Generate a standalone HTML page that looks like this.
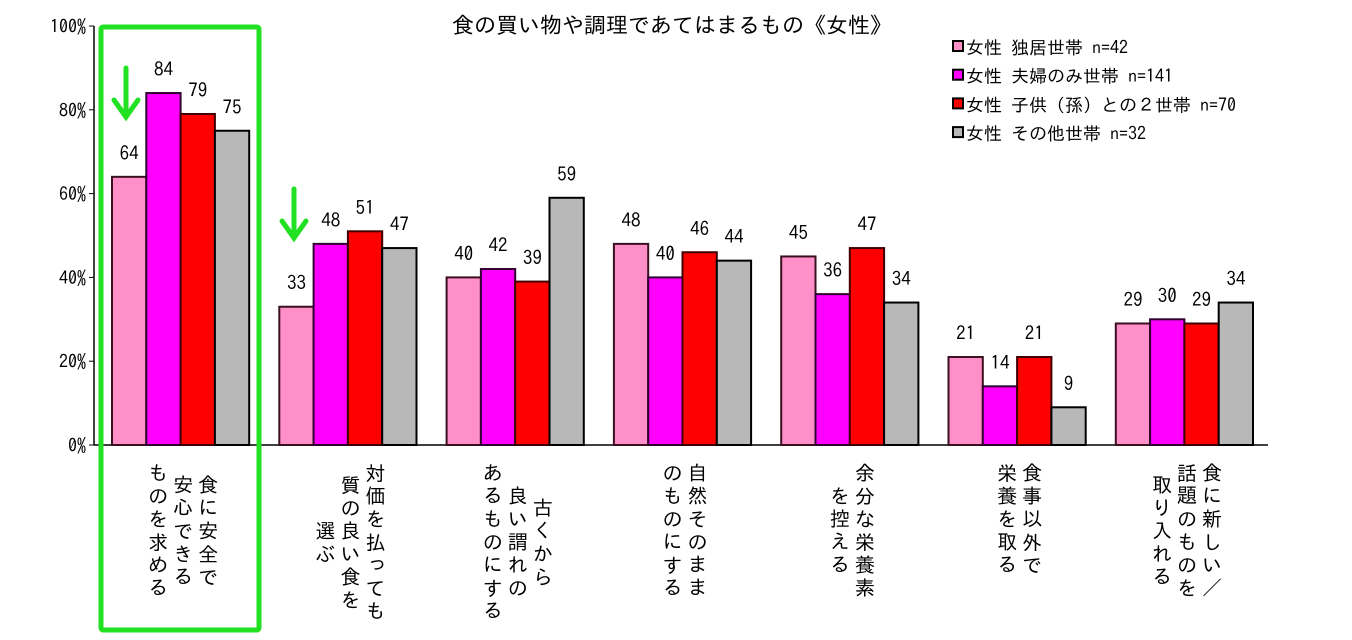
<!DOCTYPE html>
<html><head><meta charset="utf-8"><style>
body{margin:0;background:#fff;width:1352px;height:640px;overflow:hidden;position:relative;font-family:"IPAGothic","Liberation Sans","Noto Sans CJK JP",sans-serif;}
.vl{position:absolute;top:462px;writing-mode:vertical-rl;text-align:center;font-size:20px;line-height:25px;letter-spacing:3px;color:#000;}
</style></head><body>
<svg id="chart" width="1352" height="640" style="position:absolute;left:0;top:0" font-family="IPAGothic, Liberation Sans, Noto Sans CJK JP, sans-serif">
<text x="672" y="33" text-anchor="middle" font-size="22">食の買い物や調理であてはまるもの《女性》</text>
<g id="yaxis"></g><g id="bars"></g><g id="legend"></g>
<rect x="101" y="27" width="158" height="603" fill="none" stroke="#22e022" stroke-width="5" rx="2"/>
<g stroke="#22e022" stroke-width="5" fill="none" stroke-linecap="round"><line x1="126" y1="68" x2="126" y2="117"/><polyline points="114,100 126,117 138,100"/></g>
<g stroke="#22e022" stroke-width="5" fill="none" stroke-linecap="round"><line x1="294" y1="189" x2="294" y2="238"/><polyline points="282,221 294,238 306,221"/></g>
</svg>
<div id="labels"></div>
<script>
const categories=["食に安全で\n安心できる\nものを求める","対価を払っても\n質の良い食を\n選ぶ","古くから\n良い謂れの\nあるものにする","自然そのまま\nのものにする","余分な栄養素\nを控える","食事以外で\n栄養を取る","食に新しい／\n話題のものを\n取り入れる"];
const seriesNames=["女性 独居世帯 n=42","女性 夫婦のみ世帯 n=141","女性 子供（孫）との２世帯 n=70","女性 その他世帯 n=32"];
const s1=[64,33,40,48,45,21,29];
const s2=[84,48,42,40,36,14,30];
const s3=[79,51,39,46,47,21,29];
const s4=[75,47,59,44,34,9,34];
const yTicks=[0,20,40,60,80,100];
const series=[s1,s2,s3,s4];
const fills=["#ff8fc8","#ff00ff","#ff0000","#b8b8b8"];
const strokes=["#3a1020","#300030","#400000","#000000"];
const NS="http://www.w3.org/2000/svg";
const x0=94,y0=445,y100=26,catW=167.3,barW=34.3;
function y(v){return y0-(y0-y100)*v/100;}
function xb(c,s){return 112+c*catW+s*barW;}
function mk(t,a,p){const e=document.createElementNS(NS,t);for(const k in a)e.setAttribute(k,a[k]);p.appendChild(e);return e;}
const ya=document.getElementById('yaxis');
const ax=mk('line',{x1:x0,y1:y100,x2:x0,y2:y0,stroke:'#000','stroke-width':1.5},ya);


const xa=mk('line',{x1:x0,y1:y0,x2:1268,y2:y0,stroke:'#000','stroke-width':1.5},ya);


yTicks.forEach(t=>{
 mk('line',{x1:x0-5,y1:y(t),x2:x0,y2:y(t),stroke:'#000'},ya);
 const tx=mk('text',{x:86,y:y(t)+7,'text-anchor':'end','font-size':18},ya);
 tx.textContent=t+'%';
 
 
});
const bg=document.getElementById('bars');
series.forEach((arr,s)=>arr.forEach((v,c)=>{
 const r=mk('rect',{x:xb(c,s),y:y(v),width:barW,height:y0-y(v),fill:fills[s],stroke:strokes[s],'stroke-width':2},bg);
 
 
 const t=mk('text',{x:xb(c,s)+barW/2,y:y(v)-17,'text-anchor':'middle','font-size':19},bg);
 t.textContent=v;
 
 
}));
const lg=document.getElementById('legend');
seriesNames.forEach((n,i)=>{
 const g=mk('g',{},lg);
 
 
 mk('rect',{x:953,y:41+i*28.7,width:10,height:10,fill:fills[i],stroke:'#000','stroke-width':2},g);
 const t=mk('text',{x:966,y:54+i*28.7,'font-size':18},g);
 t.textContent=n;
});
const lb=document.getElementById('labels');
categories.forEach((c,i)=>{
 const d=document.createElement('div');
 d.className='vl';
 
 
 d.innerHTML=c.split('\n').join('<br>');
 lb.appendChild(d);
 const w=c.split('\n').length*25;
 d.style.left=(x0+catW*(i+0.5)+5-w/2)+'px';
});
</script>
</body></html>
